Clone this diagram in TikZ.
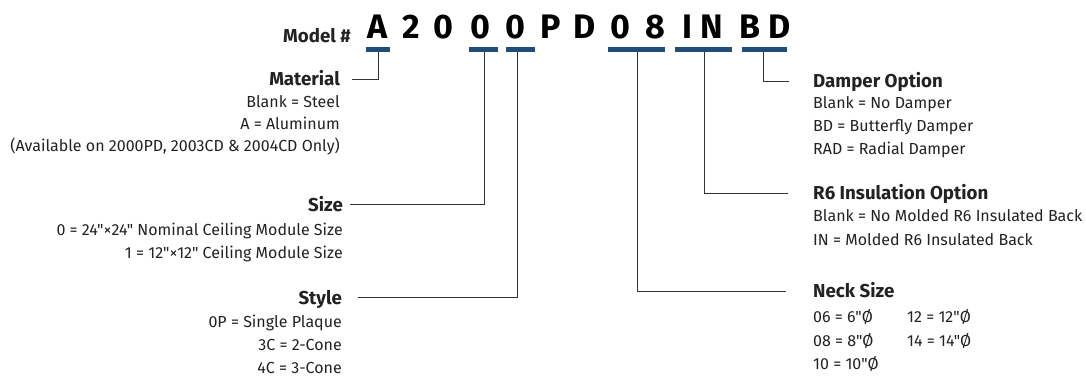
\documentclass[tikz,border=0pt]{standalone}
\usepackage{fontspec}
\setmainfont{Fira Sans}[Ligatures=TeXOff]
\definecolor{txt}{HTML}{222222}
\definecolor{ln}{HTML}{333333}
\definecolor{barblue}{HTML}{1F4E79}
\begin{document}
\begin{tikzpicture}[x=1pt,y=-1pt,
  letter/.style={anchor=base,inner sep=0pt,font=\fontsize{34}{34}\selectfont\bfseries,text=black},
  title/.style={inner sep=0pt,font=\fontsize{18.7}{18.7}\selectfont\bfseries,text=txt},
  body/.style={inner sep=0pt,font=\fontsize{16}{16}\selectfont,text=txt},
  bar/.style={draw=barblue,line width=5pt},
  conn/.style={draw=ln,line width=0.9pt}]
\useasboundingbox (0,0) rectangle (1086,378);
% model number
\node[title,anchor=base east] (model) at (351,42) {Model \#};
\foreach \n/\c/\x in {l1/A/378,l2/2/411,l3/0/443,l4/0/480,l5/0/515,l6/P/551,l7/D/585,l8/0/620,l9/8/655,l10/I/687,l11/N/712,l12/B/750,l13/D/780}
  \node[letter] (\n) at (\x,38) {\c};
% bars
\coordinate (bA1) at (366,49.5); \coordinate (bA2) at (390,49.5);
\coordinate (bS1) at (469,49.5); \coordinate (bS2) at (498,49.5);
\coordinate (bT1) at (506,49.5); \coordinate (bT2) at (535,49.5);
\coordinate (bN1) at (608,49.5); \coordinate (bN2) at (665,49.5);
\coordinate (bR1) at (675,49.5); \coordinate (bR2) at (732,49.5);
\coordinate (bD1) at (742,49.5); \coordinate (bD2) at (787,49.5);
\foreach \b in {A,S,T,N,R,D} \draw[bar] (b\b1) -- (b\b2);
\coordinate (tA) at (378,52); \coordinate (tS) at (484,52); \coordinate (tT) at (517,52);
\coordinate (tN) at (637,52); \coordinate (tR) at (704,52); \coordinate (tD) at (763,52);
% left side
\node[title,anchor=base east] (mat) at (340,85) {Material};
\node[body,anchor=base east] at (340,107) {Blank = Steel};
\node[body,anchor=base east] at (340,129) {A = Aluminum};
\node[body,anchor=base east] at (340,151) {(Available on 2000PD, 2003CD \& 2004CD Only)};
\node[title,anchor=base east] (size) at (343,211) {Size};
\node[body,anchor=base east] at (343,235) {0 = 24"×24" Nominal Ceiling Module Size};
\node[body,anchor=base east] at (343,258) {1 = 12"×12" Ceiling Module Size};
\node[title,anchor=base east] (style) at (342,304) {Style};
\node[body,anchor=base east] at (342,327) {0P = Single Plaque};
\node[body,anchor=base east] at (342,350) {3C = 2-Cone};
\node[body,anchor=base east] at (342,373) {4C = 3-Cone};
% right side
\node[title,anchor=base west] (damp) at (813,87) {Damper Option};
\node[body,anchor=base west] at (813,108) {Blank = No Damper};
\node[body,anchor=base west] at (813,131) {BD = Butterfly Damper};
\node[body,anchor=base west] at (813,154) {RAD = Radial Damper};
\node[title,anchor=base west] (rsix) at (813,199) {R6 Insulation Option};
\node[body,anchor=base west] at (813,221) {Blank = No Molded R6 Insulated Back};
\node[body,anchor=base west] at (813,245) {IN = Molded R6 Insulated Back};
\node[title,anchor=base west] (neck) at (813,297) {Neck Size};
\node[body,anchor=base west] at (813,322) {06 = 6"Ø};
\node[body,anchor=base west] at (907,322) {12 = 12"Ø};
\node[body,anchor=base west] at (813,346) {08 = 8"Ø};
\node[body,anchor=base west] at (907,346) {14 = 14"Ø};
\node[body,anchor=base west] at (813,369) {10 = 10"Ø};
% connectors
\coordinate (eA) at (352,79); \coordinate (eS) at (350,204); \coordinate (eT) at (358,297);
\coordinate (eN) at (786,291); \coordinate (eR) at (788,193); \coordinate (eD) at (789,81);
\draw[conn] (tA) |- (eA);
\draw[conn] (tS) |- (eS);
\draw[conn] (tT) |- (eT);
\draw[conn] (tN) |- (eN);
\draw[conn] (tR) |- (eR);
\draw[conn] (tD) |- (eD);
\end{tikzpicture}
\end{document}
